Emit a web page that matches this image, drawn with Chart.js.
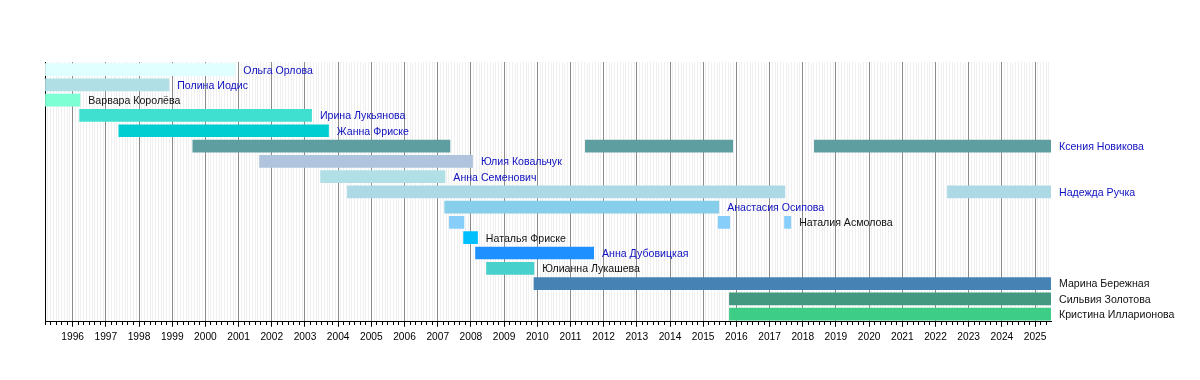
<!DOCTYPE html>
<html>
<head>
<meta charset="utf-8">
<script src="https://cdn.jsdelivr.net/npm/chart.js@4/dist/chart.umd.min.js"></script>
<style>
  html, body { margin: 0; padding: 0; background: #fff; }
  #wrap { width: 1200px; height: 380px; }
</style>
</head>
<body>
<div id="wrap"><canvas id="c" width="1200" height="380"></canvas></div>
<script>
// ---- data (decimal years) ----
const names = ['Ольга Орлова','Полина Иодис','Варвара Королёва','Ирина Лукьянова','Жанна Фриске','Ксения Новикова','Юлия Ковальчук','Анна Семенович','Надежда Ручка','Анастасия Осипова','Наталия Асмолова','Наталья Фриске','Анна Дубовицкая','Юлианна Лукашева','Марина Бережная','Сильвия Золотова','Кристина Илларионова'];
const start1 = [1995.17, 1995.17, 1995.17, 1996.20, 1997.38, 1999.61, 2001.62, 2003.46, 2004.27, 2007.20, 2007.34, 2007.77, 2008.13, 2008.46, 2009.89, 2015.78, 2015.78];
const end1   = [2000.90, 1998.91, 1996.23, 2003.21, 2003.72, 2007.38, 2008.06, 2007.23, 2017.47, 2015.48, 2007.80, 2008.21, 2011.71, 2009.91, 2025.48, 2025.48, 2025.48];
const start2 = [null, null, null, null, null, 2011.44, null, null, 2022.35, null, 2015.44, null, null, null, null, null, null];
const end2   = [null, null, null, null, null, 2015.90, null, null, 2025.48, null, 2015.81, null, null, null, null, null, null];
const start3 = [null, null, null, null, null, 2018.34, null, null, null, null, 2017.44, null, null, null, null, null, null];
const end3   = [null, null, null, null, null, 2025.48, null, null, null, null, 2017.65, null, null, null, null, null, null];
const yearLabels = ['1996','1997','1998','1999','2000','2001','2002','2003','2004','2005','2006','2007','2008','2009','2010','2011','2012','2013','2014','2015','2016','2017','2018','2019','2020','2021','2022','2023','2024','2025'];
const axisStart = 1995 + 2/12;
const axisEnd = 2025.48;

// ---- styles ----
const barColors = ['#E0FFFF','#B0E0E6','#7FFFD4','#40E0D0','#00CED1','#5F9EA0','#B0C4DE','#B0E0E6','#ADD8E6','#87CEEB','#87CEFA','#00BFFF','#1E90FF','#48D1CC','#4682B4','#43997F','#3ECD86'];
const linked = [true,true,false,true,true,true,true,true,true,true,false,false,true,false,false,false,false];
const FONT = '"Liberation Sans", Arial, sans-serif';

function seg(s, e) { return names.map((n, i) => (s[i] == null ? null : [s[i], e[i]])); }
function isYear(v) { return Math.abs(v - Math.round(v)) < 1e-6; }
function monthIdx(v) { return Math.round(v * 12); }

const labelPlugin = {
  id: 'rowLabels',
  afterDatasetsDraw(chart) {
    const ctx = chart.ctx;
    const xs = chart.scales.x, ys = chart.scales.y;
    ctx.save();
    ctx.font = '10.6px ' + FONT;
    ctx.textBaseline = 'middle';
    ctx.textAlign = 'left';
    names.forEach((n, i) => {
      const ends = [end1[i], end2[i], end3[i]].filter(v => v != null);
      const e = Math.max(...ends);
      ctx.fillStyle = linked[i] ? '#1010C0' : '#111';
      ctx.fillText(n, xs.getPixelForValue(e) + 8, ys.getPixelForValue(i) + 1);
    });
    ctx.restore();
  }
};

const common = { backgroundColor: barColors, borderWidth: 0, grouped: false, barPercentage: 0.833, categoryPercentage: 1 };

new Chart(document.getElementById('c'), {
  type: 'bar',
  data: {
    labels: names,
    datasets: [
      Object.assign({ data: seg(start1, end1) }, common),
      Object.assign({ data: seg(start2, end2) }, common),
      Object.assign({ data: seg(start3, end3) }, common)
    ]
  },
  options: {
    indexAxis: 'y',
    responsive: false,
    animation: false,
    devicePixelRatio: 1,
    layout: { padding: { left: 45, right: 149, top: 62, bottom: 33 } },
    plugins: { legend: { display: false }, tooltip: { enabled: false } },
    scales: {
      y: {
        type: 'category',
        ticks: { display: false },
        grid: { display: false, drawTicks: false },
        border: { display: true, color: '#000', width: 1 }
      },
      x: {
        type: 'linear',
        min: axisStart,
        max: axisEnd,
        afterBuildTicks(scale) {
          const t = [];
          for (let m = 1995 * 12 + 2; m / 12 <= axisEnd + 1e-9; m++) t.push({ value: m / 12 });
          scale.ticks = t;
        },
        ticks: {
          autoSkip: false,
          maxRotation: 0,
          minRotation: 0,
          padding: 4,
          color: '#000',
          font: { family: FONT, size: 10.2 },
          callback(v) {
            if (!isYear(v)) return '';
            const idx = yearLabels.indexOf(String(Math.round(v)));
            return idx >= 0 ? yearLabels[idx] : '';
          }
        },
        grid: {
          color: (c) => (c.tick && isYear(c.tick.value)) ? '#8a8a8a' : '#f0f0f0',
          lineWidth: 1,
          tickLength: 5,
          tickColor: (c) => (c.tick && monthIdx(c.tick.value) % 2 === 0) ? '#000' : 'rgba(0,0,0,0)',
          tickBorderDash: (c) => (c.tick && isYear(c.tick.value)) ? [] : [3, 10]
        },
        border: { display: true, color: '#000', width: 1 }
      }
    }
  },
  plugins: [labelPlugin]
});
</script>
</body>
</html>
